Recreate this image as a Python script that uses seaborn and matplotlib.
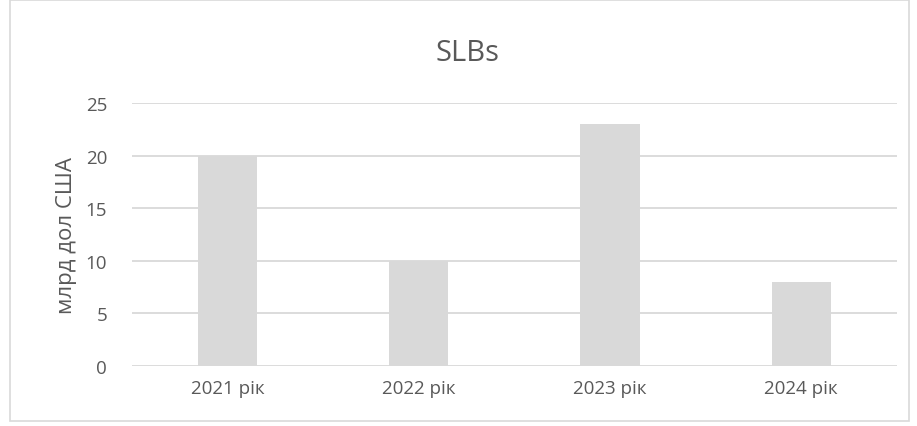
import matplotlib
matplotlib.use("Agg")
import matplotlib.pyplot as plt
import seaborn as sns
import pandas as pd
from matplotlib.patches import Rectangle

# Data
years = ["2021 рік", "2022 рік", "2023 рік", "2024 рік"]
volumes = [20, 10, 23, 8]

df = pd.DataFrame({"year": years, "volume": volumes})

sns.set_theme(style="white")
plt.rcParams['font.family'] = ['Open Sans', 'DejaVu Sans']

text_col = "#595959"
grid_col = "#d9d9d9"

fig = plt.figure(figsize=(9.17, 4.27), dpi=100)
ax = fig.add_axes([0.144, 0.1405, 0.834, 0.6155])

sns.barplot(data=df, x="year", y="volume", color="#d9d9d9", saturation=1,
            width=0.31, linewidth=0, ax=ax, zorder=3)

ax.set_ylim(0, 25)
ax.set_yticks([0, 5, 10, 15, 20, 25])
ax.yaxis.grid(True, color=grid_col, linewidth=1.3, zorder=0)
ax.set_axisbelow(True)
for s in ax.spines.values():
    s.set_visible(False)
ax.tick_params(axis="both", length=0, labelsize=13.5, colors=text_col, pad=9)
ax.tick_params(axis="y", pad=18)
ax.set_xlabel("")
ax.set_ylabel("млрд дол США", fontsize=16, color=text_col, labelpad=6)

fig.text(0.51, 0.875, "SLBs", ha="center", va="center", fontsize=21, color=text_col)

# chart outer border
fig.patches.append(Rectangle((0.011, 0.012), 0.98, 0.985, transform=fig.transFigure,
                             fill=False, edgecolor="#d9d9d9", linewidth=1.2))

fig.savefig("out.png", dpi=100)
